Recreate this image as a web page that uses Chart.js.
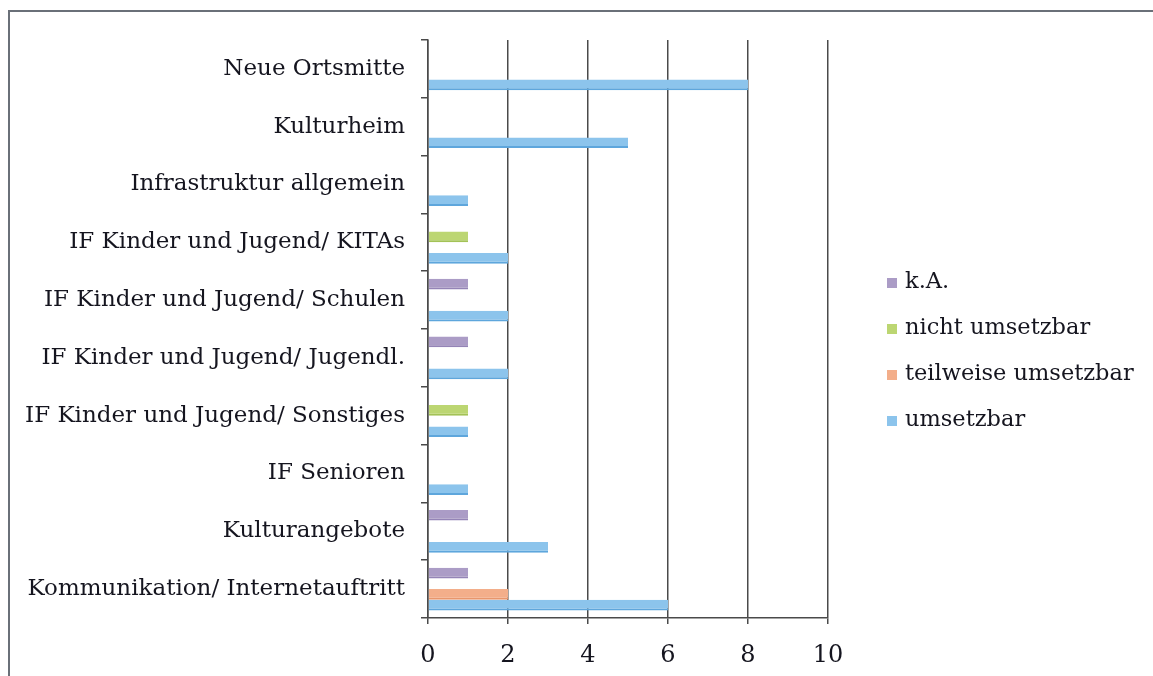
<!DOCTYPE html>
<html><head><meta charset="utf-8">
<script src="https://cdn.jsdelivr.net/npm/chart.js@4.4.1/dist/chart.umd.min.js"></script>
<style>
html,body{margin:0;padding:0;background:#fff;width:1153px;height:676px;overflow:hidden;}
#wrap{position:absolute;left:0;top:0;width:1153px;height:676px;}
#frame{position:absolute;left:8px;top:10px;width:1160px;height:700px;border-left:2px solid #6a7078;border-top:2px solid #6a7078;box-sizing:border-box;}
#legend{position:absolute;left:887px;top:257px;font-family:"DejaVu Serif",serif;font-size:22.5px;color:#15151f;}
.li{height:46px;line-height:46px;white-space:nowrap;}
.sw{display:inline-block;width:10px;height:10px;margin-right:8px;vertical-align:middle;position:relative;top:1px;}
</style></head>
<body>
<div id="wrap">
<div id="frame"></div>
<canvas id="c" width="1153" height="676"></canvas>
<div id="legend"></div>
</div>
<script>
const categories = ["Neue Ortsmitte","Kulturheim","Infrastruktur allgemein","IF Kinder und Jugend/ KITAs","IF Kinder und Jugend/ Schulen","IF Kinder und Jugend/ Jugendl.","IF Kinder und Jugend/ Sonstiges","IF Senioren","Kulturangebote","Kommunikation/ Internetauftritt"];
const seriesNames = ["k.A.","nicht umsetzbar","teilweise umsetzbar","umsetzbar"];
const kA = [null,null,null,null,1,1,null,null,1,1];
const nichtUmsetzbar = [null,null,null,1,null,null,1,null,null,null];
const teilweiseUmsetzbar = [null,null,null,null,null,null,null,null,null,2];
const umsetzbar = [8,5,1,2,2,2,1,1,3,6];
const xTicks = [0,2,4,6,8,10];

const fills = ["#ab9cc6","#bcd672","#f3ae8a","#8cc4ec"];
const borders = ["#9484b6","#a3c256","#e8966c","#5ea6dc"];
const seriesData = [kA, nichtUmsetzbar, teilweiseUmsetzbar, umsetzbar];

const leg = document.getElementById('legend');
seriesNames.forEach((n,i)=>{
  const d=document.createElement('div');d.className='li';
  d.innerHTML='<span class="sw" style="background:'+fills[i]+'"></span>'+n;
  leg.appendChild(d);
});

new Chart(document.getElementById('c'),{
  type:'bar',
  data:{
    labels:categories,
    datasets:seriesNames.map((n,i)=>({label:n,data:seriesData[i],backgroundColor:fills[i],borderColor:borders[i],borderWidth:{top:0,left:0,right:0,bottom:2},borderSkipped:false,categoryPercentage:0.74,barPercentage:1.0}))
  },
  options:{
    indexAxis:'y',
    responsive:false,
    animation:false,
    layout:{padding:{left:0,right:325,top:40,bottom:0}},
    plugins:{legend:{display:false},tooltip:{enabled:false}},
    scales:{
      x:{
        min:0,max:10,
        afterBuildTicks:(s)=>{s.ticks=xTicks.map(v=>({value:v}));},
        afterFit:(s)=>{s.height=58;},
        grid:{color:'#4a4a4a',lineWidth:1.5,tickLength:6,drawTicks:true},
        border:{display:true,color:'#4a4a4a',width:1.5},
        ticks:{font:{family:'DejaVu Serif',size:24},color:'#15151f',padding:17}
      },
      y:{
        afterFit:(s)=>{s.width=428;},
        grid:{drawOnChartArea:false,drawTicks:true,tickLength:7,color:'#4a4a4a',lineWidth:1.5,offset:true},
        border:{display:true,color:'#4a4a4a',width:1.5},
        ticks:{font:{family:'DejaVu Serif',size:23},color:'#15151f',padding:16,autoSkip:false}
      }
    }
  }
});
</script>
</body></html>
